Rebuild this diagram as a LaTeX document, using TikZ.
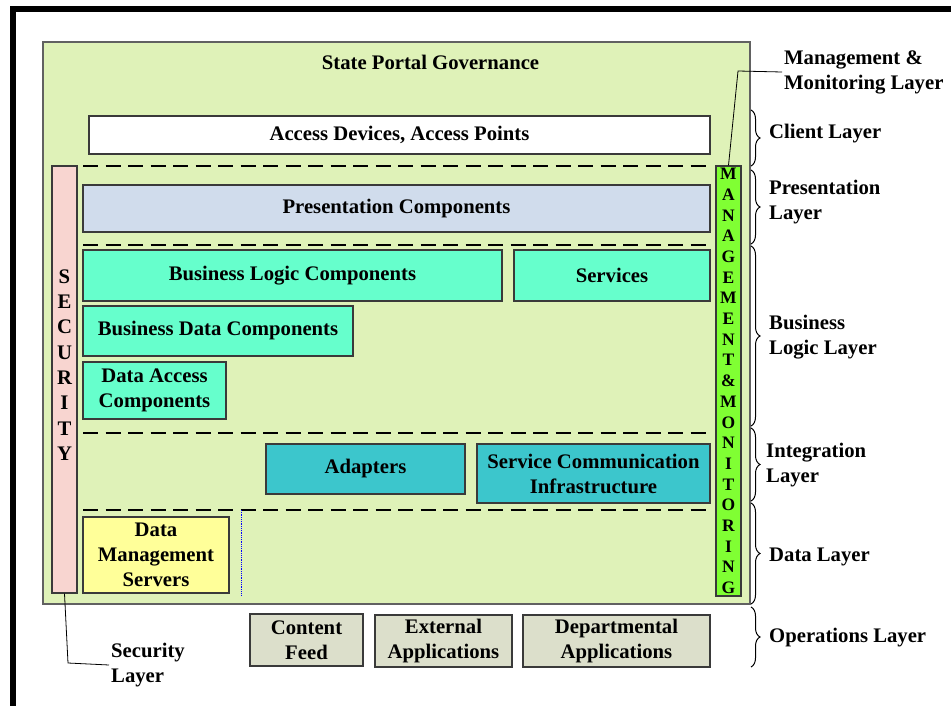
\documentclass[tikz,border=0pt]{standalone}
\usepackage{fontspec}
\setmainfont{Liberation Serif}
\usepackage{tikz}
\usetikzlibrary{decorations.pathreplacing}

\definecolor{governgreen}{HTML}{DFF2B8}
\definecolor{presblue}{HTML}{D0DCEC}
\definecolor{bizgreen}{HTML}{66FFCC}
\definecolor{intcyan}{HTML}{3CC6CC}
\definecolor{datayellow}{HTML}{FFFF99}
\definecolor{secpink}{HTML}{F8D5D0}
\definecolor{mgmtlime}{HTML}{80FF33}
\definecolor{opsgray}{HTML}{DCDFCB}
\definecolor{boxgray}{HTML}{3A3A3A}

\tikzset{
  bigfont/.style={font=\fontsize{20.7}{25}\selectfont\bfseries},
  compbox/.style={draw=boxgray, line width=1.2pt, bigfont, align=center, inner sep=0pt},
  presbox/.style={compbox, fill=presblue},
  bizbox/.style={compbox, fill=bizgreen},
  intbox/.style={compbox, fill=intcyan},
  databox/.style={compbox, fill=datayellow},
  opsbox/.style={compbox, fill=opsgray},
  layerlbl/.style={bigfont, align=left, anchor=west, inner sep=2pt},
  sepline/.style={line width=2.5pt, dash pattern=on 15pt off 7.5pt},
  layerbrace/.style={decorate, decoration={brace, amplitude=9pt}, line width=1pt}
}

\begin{document}
\begin{tikzpicture}[x=1pt, y=-1pt]
    \useasboundingbox (0,0) rectangle (951,706);
    % frame
    \draw[line width=6pt] (12.5,706) -- (12.5,9) -- (951,9);

    % governance area
    \node[draw=boxgray!80, line width=1.5pt, fill=governgreen, inner sep=0pt,
          minimum width=707pt, minimum height=562pt] (govern) at (396.5,323) {};
    \node[bigfont] (title) at (430.5,62) {State Portal Governance};

    \node[compbox, fill=white, minimum width=621pt, minimum height=38pt] (access) at (399.5,135) {Access Devices, Access Points};
    \foreach \y in {166,245,433,510}{
      \draw[sepline] (83,\y) -- (712,\y);
    }

    % security and management bars
    \node[compbox, fill=secpink, minimum width=25pt, minimum height=427pt] (security) at (64.5,379.5) {};
    \node[font=\fontsize{20.7}{25.3}\selectfont\bfseries, align=center] (sectext) at (64.5,365)
      {S\\E\\C\\U\\R\\I\\T\\Y};
    \node[draw=boxgray, line width=1.2pt, fill=mgmtlime, inner sep=0pt, align=center,
          minimum width=25pt, minimum height=430pt,
          font=\fontsize{17.5}{20.7}\selectfont\bfseries] (mgmt) at (728.5,381)
      {M\\A\\N\\A\\G\\E\\M\\E\\N\\T\\\&\\M\\O\\N\\I\\T\\O\\R\\I\\N\\G};

    % components
    \node[presbox, minimum width=627pt, minimum height=47pt] (present) at (396.5,208.5) {Presentation Components};
    \node[bizbox, minimum width=419pt, minimum height=51pt] (bizlogic) at (292.5,275.5) {Business Logic Components};
    \node[bizbox, minimum width=196pt, minimum height=51pt] (services) at (612,275.5) {Services};
    \node[bizbox, minimum width=270pt, minimum height=50pt] (bizdata) at (218,331) {Business Data Components};
    \node[bizbox, minimum width=143pt, minimum height=57pt] (dataaccess) at (154.5,390.5) {Data Access\\Components};
    \node[intbox, minimum width=199pt, minimum height=50pt] (adapters) at (365.5,469) {Adapters};
    \node[intbox, minimum width=233pt, minimum height=59pt] (servcomm) at (593.5,473.5) {Service Communication\\Infrastructure};
    \node[databox, minimum width=146pt, minimum height=76pt] (datamgmt) at (156,555) {Data\\Management\\Servers};
    \draw[blue, densely dotted, line width=0.8pt] (241,510) -- (241,596);

    % operations
    \node[opsbox, minimum width=113pt, minimum height=52pt] (content) at (306.5,640) {Content\\Feed};
    \node[opsbox, minimum width=137pt, minimum height=52pt] (external) at (443.5,641) {External\\Applications};
    \node[opsbox, minimum width=187pt, minimum height=52pt] (depart) at (616.5,641) {Departmental\\Applications};

    % layer braces and labels
    \draw[layerbrace] (751,110) -- (751,166);
    \draw[layerbrace] (751,170) -- (751,244);
    \draw[layerbrace] (751,246) -- (751,426);
    \draw[layerbrace] (751,428) -- (751,501);
    \draw[layerbrace] (751,503) -- (751,604);
    \draw[layerbrace] (751,607) -- (751,667);
    \node[layerlbl] (clientlbl) at (767,134) {Client Layer};
    \node[layerlbl] (preslbl) at (767,202.5) {Presentation\\Layer};
    \node[layerlbl] (bizlbl) at (767,337.5) {Business\\Logic Layer};
    \node[layerlbl] (intlbl) at (764,465.5) {Integration\\Layer};
    \node[layerlbl] (datalbl) at (767,557) {Data Layer};
    \node[layerlbl] (opslbl) at (767,638) {Operations Layer};
    \node[layerlbl] (mgmtlbl) at (782,72) {Management \&\\Monitoring Layer};
    \node[layerlbl] (seclbl) at (109,665) {Security\\Layer};

    % leader lines
    \draw[line width=0.8pt] (mgmtlbl.west) -- (738,71) -- (mgmt.north);
    \draw[line width=0.8pt] (security.south) -- (68,663) -- (seclbl.west);
\end{tikzpicture}
\end{document}
